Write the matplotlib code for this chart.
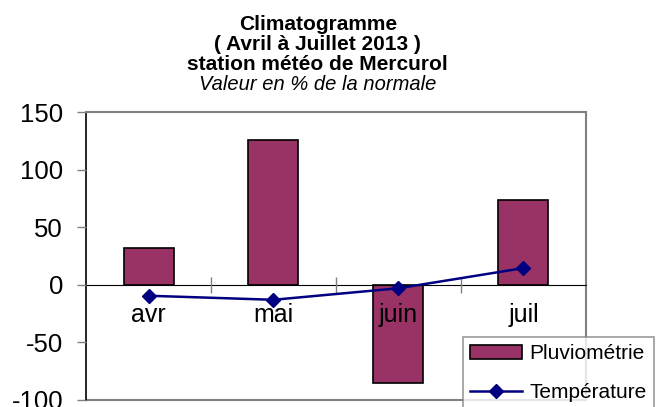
import numpy as np
import matplotlib.pyplot as plt
from matplotlib.ticker import FixedLocator

plt.rcParams['font.family'] = ['Liberation Sans', 'DejaVu Sans']
plt.rcParams['axes.unicode_minus'] = False

# Données (en % de la normale)
mois = ['avr', 'mai', 'juin', 'juil']
pluviometrie = [32, 126, -85, 74]
temperature = [-9.5, -13, -3, 14.5]

fig = plt.figure(figsize=(6.62, 4.07), dpi=100)
ax = fig.add_axes([0.130, 0.0172, 0.755, 0.7076])
ax.set_axisbelow(False)

x = np.arange(len(mois))
barres = ax.bar(x, pluviometrie, width=0.4, color='#993366', edgecolor='black',
                linewidth=1.2, label='Pluviométrie', zorder=2)
ligne, = ax.plot(x, temperature, color='#000080', linewidth=1.8, marker='D',
                 markersize=7, label='Température', zorder=3)

ax.set_xlim(-0.5, len(mois) - 0.5)
ax.set_ylim(-100, 150)
ax.set_yticks([-100, -50, 0, 50, 100, 150])
ax.tick_params(axis='y', labelsize=18.5, length=6.5, width=1, color='#808080', pad=10)

# axe des catégories sur la ligne du zéro
ax.spines['bottom'].set_position(('data', 0))
ax.spines['bottom'].set_color('black')
ax.spines['left'].set_color('black')
ax.spines['left'].set_linewidth(1.2)
ax.spines['top'].set_color('#808080')
ax.spines['right'].set_color('#808080')
ax.spines['top'].set_linewidth(1.5)
ax.spines['right'].set_linewidth(1.5)
ax.axhline(-100, color='#808080', linewidth=1.5, clip_on=False)

ax.set_xticks(x)
ax.set_xticklabels(mois)
ax.tick_params(axis='x', which='major', length=0, labelsize=18, pad=13)
ax.xaxis.set_minor_locator(FixedLocator([0.5, 1.5, 2.5]))
ax.tick_params(axis='x', which='minor', direction='inout', length=11,
               color='#808080', width=1)

# titre
tx = 0.480
fig.text(tx, 1 - 25 / 407, 'Climatogramme', ha='center', va='center',
         fontsize=15, fontweight='bold')
fig.text(tx, 1 - 45 / 407, '( Avril à Juillet 2013 )', ha='center', va='center',
         fontsize=15, fontweight='bold')
fig.text(tx, 1 - 65 / 407, 'station météo de Mercurol', ha='center', va='center',
         fontsize=15, fontweight='bold')
fig.text(tx, 1 - 84 / 407, 'Valeur en % de la normale', ha='center', va='center',
         fontsize=14.5, style='italic')

leg = fig.legend([barres, ligne], ['Pluviométrie', 'Température'],
                 loc='upper left', bbox_to_anchor=(463 / 662, 1 - 337 / 407), fontsize=15,
                 frameon=True, fancybox=False, edgecolor='#808080', numpoints=1,
                 handlelength=2.5, handletextpad=0.35, labelspacing=0.95,
                 borderaxespad=0, borderpad=0.35)
leg.get_frame().set_linewidth(1.2)

fig.savefig('out.png', dpi=100)
